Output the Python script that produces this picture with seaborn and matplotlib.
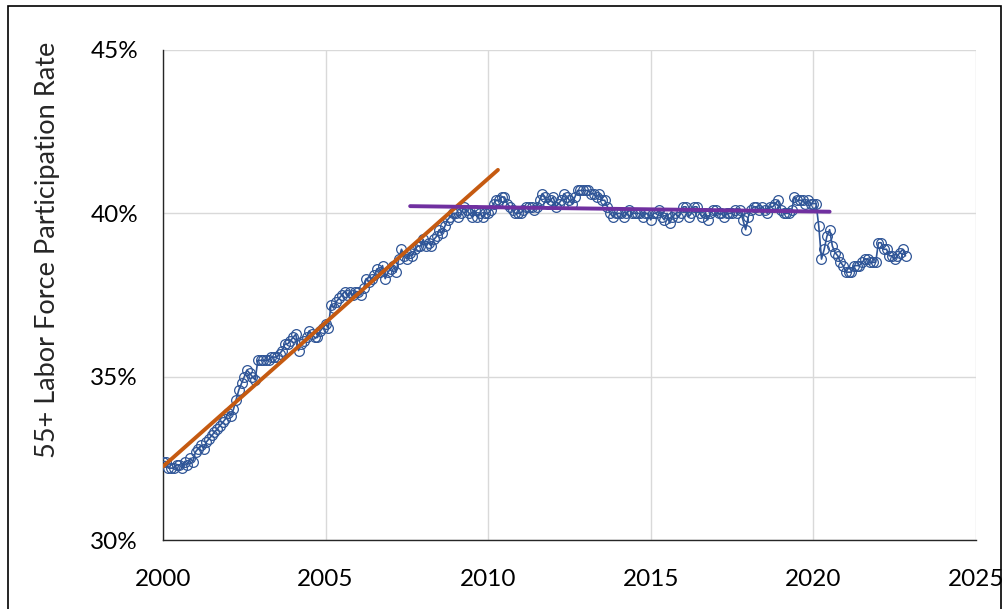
import matplotlib
matplotlib.use("Agg")
import matplotlib.pyplot as plt
from matplotlib.patches import Rectangle
from matplotlib.ticker import FuncFormatter, MultipleLocator
import numpy as np
import pandas as pd
import seaborn as sns

# monthly 55+ labor force participation rate (%), Jan 2000 - Nov 2022
rate_2000 = [32.4, 32.4, 32.2, 32.2, 32.2, 32.3, 32.3, 32.2, 32.4, 32.3, 32.5, 32.4]
rate_2001 = [32.7, 32.8, 32.9, 32.8, 33.0, 33.1, 33.2, 33.3, 33.4, 33.5, 33.6, 33.7]
rate_2002 = [33.9, 33.8, 34.0, 34.3, 34.6, 34.8, 35.0, 35.2, 35.1, 35.0, 34.9, 35.5]
rate_2003 = [35.5, 35.5, 35.5, 35.5, 35.6, 35.6, 35.6, 35.7, 35.8, 36.0, 36.0, 36.1]
rate_2004 = [36.2, 36.3, 35.8, 36.0, 36.1, 36.2, 36.4, 36.3, 36.2, 36.2, 36.4, 36.5]
rate_2005 = [36.6, 36.5, 37.2, 37.1, 37.3, 37.4, 37.5, 37.6, 37.5, 37.6, 37.5, 37.6]
rate_2006 = [37.6, 37.5, 37.7, 38.0, 37.9, 38.0, 38.1, 38.3, 38.2, 38.4, 38.0, 38.2]
rate_2007 = [38.3, 38.4, 38.2, 38.6, 38.9, 38.7, 38.6, 38.8, 38.7, 38.9, 39.0, 39.0]
rate_2008 = [39.2, 39.0, 39.1, 39.0, 39.2, 39.3, 39.5, 39.4, 39.6, 39.8, 39.9, 40.0]
rate_2009 = [40.0, 39.9, 40.0, 40.2, 40.1, 40.0, 39.9, 40.1, 39.9, 40.0, 39.9, 40.0]
rate_2010 = [40.0, 40.1, 40.3, 40.4, 40.4, 40.5, 40.5, 40.3, 40.2, 40.1, 40.0, 40.0]
rate_2011 = [40.0, 40.1, 40.2, 40.2, 40.2, 40.1, 40.2, 40.4, 40.6, 40.5, 40.3, 40.4]
rate_2012 = [40.5, 40.2, 40.3, 40.4, 40.6, 40.5, 40.4, 40.3, 40.5, 40.7, 40.7, 40.7]
rate_2013 = [40.7, 40.7, 40.6, 40.6, 40.5, 40.6, 40.4, 40.4, 40.2, 40.0, 39.9, 40.0]
rate_2014 = [40.0, 40.0, 39.9, 40.0, 40.1, 40.0, 40.0, 40.0, 40.0, 39.9, 40.0, 40.0]
rate_2015 = [39.8, 40.0, 40.0, 40.1, 39.9, 39.8, 40.0, 39.7, 39.9, 40.0, 39.9, 40.0]
rate_2016 = [40.2, 40.2, 39.9, 40.0, 40.2, 40.2, 40.0, 39.9, 40.0, 39.8, 40.0, 40.1]
rate_2017 = [40.1, 40.0, 40.0, 39.9, 40.0, 40.0, 40.0, 40.1, 40.0, 40.1, 39.8, 39.5]
rate_2018 = [39.9, 40.1, 40.2, 40.2, 40.1, 40.2, 40.1, 40.0, 40.2, 40.2, 40.3, 40.4]
rate_2019 = [40.1, 40.0, 40.0, 40.0, 40.1, 40.5, 40.4, 40.4, 40.4, 40.3, 40.4, 40.3]
rate_2020 = [40.3, 40.3, 39.6, 38.6, 38.9, 39.3, 39.5, 39.0, 38.8, 38.7, 38.5, 38.4]
rate_2021 = [38.2, 38.2, 38.2, 38.4, 38.4, 38.4, 38.5, 38.6, 38.6, 38.5, 38.5, 38.5]
rate_2022 = [39.1, 39.1, 38.9, 38.9, 38.7, 38.7, 38.6, 38.7, 38.8, 38.9, 38.7]

# trend lines (end points)
growth_trend_x = [2000.0, 2010.3]
growth_trend_y = [32.25, 41.33]
plateau_trend_x = [2007.6, 2020.5]
plateau_trend_y = [40.22, 40.05]

yearly = [rate_2000, rate_2001, rate_2002, rate_2003, rate_2004, rate_2005,
          rate_2006, rate_2007, rate_2008, rate_2009, rate_2010, rate_2011,
          rate_2012, rate_2013, rate_2014, rate_2015, rate_2016, rate_2017,
          rate_2018, rate_2019, rate_2020, rate_2021, rate_2022]

rows = []
for i, vals in enumerate(yearly):
    for m, v in enumerate(vals):
        rows.append({"t": 2000 + i + m / 12.0, "rate": v})
df = pd.DataFrame(rows)

sns.set_style("white")
plt.rcParams["font.family"] = ["Lato", "DejaVu Sans"]

fig = plt.figure(figsize=(10.05, 6.09), dpi=100)
ax = fig.add_axes([0.1622, 0.1133, 0.8089, 0.8046])

sns.lineplot(data=df, x="t", y="rate", ax=ax, color="#2F5597", lw=1.2,
             marker="o", markersize=7, markerfacecolor="none",
             markeredgecolor="#2F5597", markeredgewidth=0.9, zorder=3)
sns.lineplot(x=growth_trend_x, y=growth_trend_y, ax=ax, color="#C55A11",
             lw=2.8, zorder=4)
sns.lineplot(x=plateau_trend_x, y=plateau_trend_y, ax=ax, color="#7030A0",
             lw=2.8, zorder=4)

ax.set_xlim(2000, 2025)
ax.set_ylim(30, 45)
ax.xaxis.set_major_locator(MultipleLocator(5))
ax.yaxis.set_major_locator(MultipleLocator(5))
ax.yaxis.set_major_formatter(FuncFormatter(lambda v, p: f"{v:.0f}%"))

ax.grid(True, color="#D9D9D9", lw=1)
ax.set_axisbelow(True)
for s in ["top", "right"]:
    ax.spines[s].set_visible(False)
for s in ["left", "bottom"]:
    ax.spines[s].set_color("#262626")
    ax.spines[s].set_linewidth(1)

ax.tick_params(axis="both", which="major", direction="out", length=7,
               width=1, color="#262626", labelsize=17.5, labelcolor="black")
ax.tick_params(axis="y", pad=11)
ax.tick_params(axis="x", pad=14)

ax.set_xlabel("")
ax.set_ylabel("55+ Labor Force Participation Rate", fontsize=19.5)
ax.yaxis.set_label_coords(-0.127, 0.592)

fig.patches.append(Rectangle((0.008, -0.02), 0.988, 1.01, transform=fig.transFigure,
                             fill=False, edgecolor="black", lw=1.2))

fig.savefig("out.png", dpi=100)
